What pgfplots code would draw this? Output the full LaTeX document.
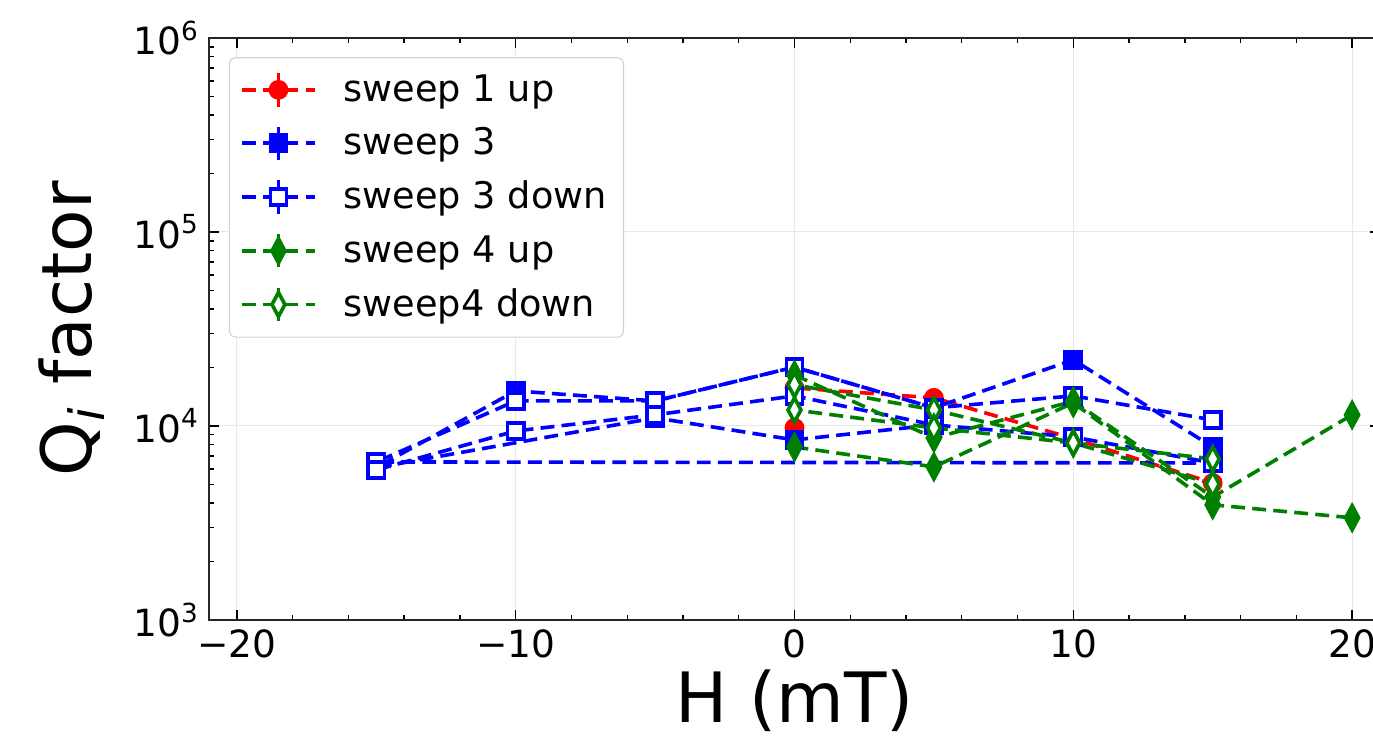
\documentclass[border=0pt]{standalone}
\usepackage{fontspec}
\setmainfont{DejaVu Sans}
\usepackage{pgfplots}
\pgfplotsset{compat=1.18}
\definecolor{mgreen}{RGB}{0,128,0}
\begin{document}
\begin{tikzpicture}
\begin{axis}[
  name=ax,
  scale only axis,
  width=421.6pt, height=209.5pt,
  xmin=-21, xmax=21,
  ymode=log, ymin=1000, ymax=1000000,
  xtick={-20,-10,0,10,20},
  xticklabels={−20,−10,0,10,20},
  minor x tick num=4,
  ytick={1000,10000,100000,1000000},
  yticklabels={10\textsuperscript{3},10\textsuperscript{4},10\textsuperscript{5},10\textsuperscript{6}},
  tick align=inside,
  major tick length=3.6pt,
  minor tick length=1.9pt,
  tick style={black, line width=0.5pt},
  axis line style={line width=0.9pt, black!85},
  grid=major,
  major grid style={gray!18, line width=0.4pt},
  ticklabel style={font=\fontsize{13.5}{16}\selectfont},
  xlabel={H (mT)},
  ylabel={Q\textsubscript{\textit{i}} factor},
  label style={font=\fontsize{25}{29}\selectfont},
  xlabel style={yshift=2.5pt},
  ylabel style={yshift=3.5pt},
  legend style={at={(0.017,0.967)}, anchor=north west, draw=gray!35, rounded corners=2pt,
    fill=white, font=\fontsize{13.2}{16}\selectfont, row sep=4pt, inner xsep=4pt, inner ysep=4pt},
  legend cell align=left,
  legend image code/.code={
    \path[draw=none] (0pt,0pt) -- (34.5pt,0pt);
    \draw[#1, solid, mark=none] (13pt,-6pt) -- (13pt,6pt);
    \draw[mark repeat=2,mark phase=2,#1] plot coordinates {(0pt,0pt)(13pt,0pt)(26pt,0pt)};
  },
  every axis plot/.append style={line width=1.3pt, dash pattern=on 5pt off 2.6pt},
]
% sweep 1 up
\addplot[red, mark=*, mark size=2.9pt, mark options={solid}] coordinates {
(0,9770) (0,15700) (5,13950) (10,8600) (15,5080)};
\addlegendentry{sweep 1 up}
% sweep 3
\addplot[blue, mark=square*, mark size=2.9pt, mark options={solid}] coordinates {
(5,10120) (0,8470) (-5,11000) (-15,6100) (-10,15150) (-5,13450) (0,20100) (5,12390) (10,21900) (15,7790)};
\addlegendentry{sweep 3}
% sweep 3 down
\addplot[blue, mark=square*, mark size=2.9pt, mark options={solid, fill=white}] coordinates {
(15,10740) (10,14280) (5,12390) (0,20100) (-5,13450) (-10,13450) (-15,6520)
(15,6440) (10,8770) (5,10120) (0,14280) (-5,11400) (-10,9420) (-15,5930)};
\addlegendentry{sweep 3 down}
% sweep 4 up
\addplot[mgreen, mark=diamond*, mark size=3.1pt, mark options={solid, yscale=1.4}] coordinates {
(0,7790) (5,6150) (10,13150) (15,3920) (20,3360)};
\addlegendentry{sweep 4 up}
\addplot[mgreen, mark=diamond*, mark size=3.1pt, mark options={solid, yscale=1.4}, forget plot] coordinates {
(0,18300) (5,8670) (10,13400) (15,4300) (20,11400)};
% sweep4 down
\addplot[mgreen, mark=diamond*, mark size=3.1pt, mark options={solid, fill=white, yscale=1.4}] coordinates {
(15,6760) (10,8170) (5,12090) (0,16300) (0,12090) (5,9770) (10,8170) (15,5020)};
\addlegendentry{sweep4 down}
\end{axis}
\pgfresetboundingbox
\path[use as bounding box] ([xshift=-75.24pt,yshift=-45.72pt]ax.south west) rectangle ([xshift=-2.52pt,yshift=13.68pt]ax.north east);
\end{tikzpicture}
\end{document}
